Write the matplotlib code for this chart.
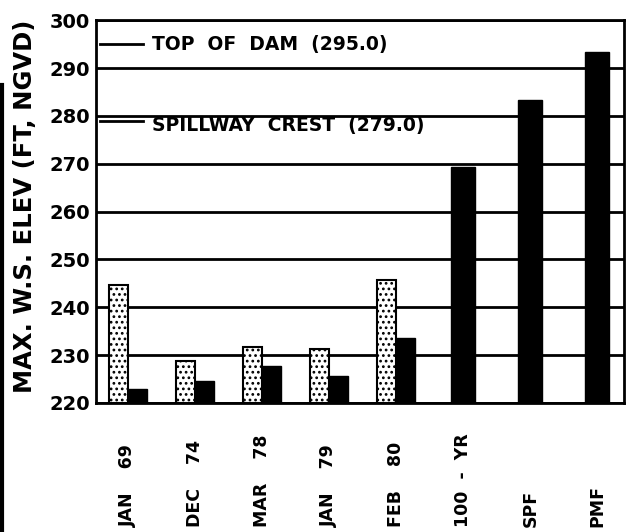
import matplotlib
matplotlib.use('Agg')
import matplotlib.pyplot as plt
import matplotlib.transforms as mtransforms
from matplotlib.lines import Line2D
import numpy as np

# Elevations max. (ft, NGVD)
evenements = ['JAN    69', 'DEC    74', 'MAR    78', 'JAN    79', 'FEB    80',
              '100  -  YR', 'SPF', 'PMF']
observe = [244.6, 228.7, 231.7, 231.2, 245.8]          # barres pointillées
calcule = [223.0, 224.6, 227.7, 225.6, 233.5]          # barres noires
simule = [269.4, 283.3, 293.3]                          # 100-YR, SPF, PMF
yticks = [220, 230, 240, 250, 260, 270, 280, 290, 300]
top_of_dam = 295.0
spillway = 279.0

plt.rcParams['hatch.linewidth'] = 1.2

fig = plt.figure(figsize=(6.26, 5.32), dpi=100)
ax = fig.add_axes([0.153, 0.2425, 0.844, 0.7195])

x = np.arange(len(evenements))
w = 0.28
n = len(observe)

ax.bar(x[:n] - w / 2, [v - 220 for v in observe], w, bottom=220,
       color='white', edgecolor='black', linewidth=1.5, hatch='...', zorder=3)
ax.bar(x[:n] + w / 2, [v - 220 for v in calcule], w, bottom=220,
       color='black', edgecolor='black', zorder=3)
ax.bar(x[n:], [v - 220 for v in simule], 0.36, bottom=220,
       color='black', edgecolor='black', zorder=3)

ax.set_xlim(-0.48, 7.4)
ax.set_ylim(220, 300)
ax.set_yticks(yticks)
ax.set_yticklabels([str(t) for t in yticks], fontsize=14, fontweight='bold')
ax.set_xticks([])
ax.tick_params(axis='y', length=0, pad=4)
ax.yaxis.grid(True, color='black', linewidth=2, zorder=1)
ax.set_axisbelow(True)
for s in ax.spines.values():
    s.set_linewidth(2)

ax.set_ylabel('MAX. W.S. ELEV (FT, NGVD)', fontsize=17.5, fontweight='bold')
ax.yaxis.set_label_coords(-0.112, 0.515)

# niveaux de référence
trans = mtransforms.blended_transform_factory(ax.transAxes, ax.transData)
for niveau, texte, dy in [(top_of_dam, 'TOP  OF  DAM  (%.1f)' % top_of_dam, 0.0),
                          (spillway, 'SPILLWAY  CREST  (%.1f)' % spillway, -1.0)]:
    ax.plot([0.008, 0.09], [niveau, niveau], color='black', lw=2,
            transform=trans, zorder=4)
    ax.text(0.107, niveau + dy, texte, transform=trans, fontsize=13.5,
            fontweight='bold', va='center', ha='left', zorder=4)

# étiquettes verticales sous l'axe
trans_x = mtransforms.blended_transform_factory(ax.transData, ax.transAxes)
for xi, lab in zip(x, evenements):
    ax.text(xi, -0.325, lab, rotation=90, ha='center', va='bottom',
            fontsize=12.5, fontweight='bold', transform=trans_x)

# bord gauche du document numérisé
fig.add_artist(Line2D([0.003, 0.003], [0.0, 0.84], color='black', lw=3,
                      transform=fig.transFigure))

fig.savefig('out.png', dpi=100)
